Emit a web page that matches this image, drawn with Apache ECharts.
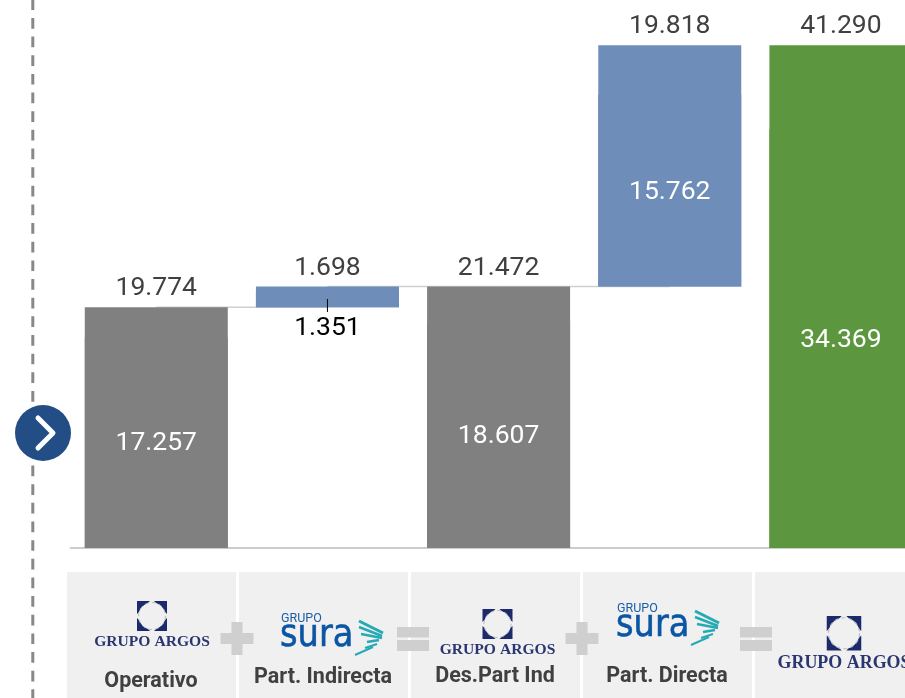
<!DOCTYPE html>
<html>
<head>
<meta charset="utf-8">
<style>
html, body { margin: 0; padding: 0; background: #fff; overflow: hidden; }
#charts { width: 905px; height: 698px; }
</style>
<script src="https://cdn.jsdelivr.net/npm/echarts@6/dist/echarts.min.js"></script>
</head>
<body>
<div id="charts"></div>
<script>
var categories = ['Operativo', 'Part. Indirecta', 'Des.Part Ind', 'Part. Directa', 'Total'];
var baseValues = [0, 19774, 0, 21472, 0];
var lowerValues = [17257, 1351, 18607, 15762, 34369];
var totalValues = [19774, 1698, 21472, 19818, 41290];
var barColors = ['#808080', '#6f8db9', '#808080', '#6f8db9', '#5c973f'];
var connectorValues = [19774, 21472, 21472];
var connectorFrom = [0, 1, 2];

function fmt(v) {
    return (v / 1000).toFixed(3);
}

function barData(list) {
    var out = [];
    for (var i = 0; i < list.length; i++) {
        out.push({ value: list[i], itemStyle: { color: barColors[i] } });
    }
    return out;
}

// logos are drawn in pixels, they are not chart data
function argosLogo(cx, top, s) {
    var size = 30 * s, l = cx - size / 2, t = top, c = 13 * s;
    var navy = '#1c2a6b';
    var corner = function(sx, sy) {
        var ox = sx > 0 ? l : l + size, oy = sy > 0 ? t : t + size;
        return {
            type: 'polygon', z: 12,
            shape: { points: [[ox, oy], [ox + sx * c, oy], [ox, oy + sy * c]] },
            style: { fill: navy }
        };
    };
    return [
        corner(1, 1), corner(-1, 1), corner(1, -1), corner(-1, -1),
        { type: 'circle', z: 12, shape: { cx: cx, cy: t + size / 2, r: 13.5 * s }, style: { fill: '#f0f0f0', stroke: '#b9bcc6', lineWidth: 1 * s, lineDash: [4, 3] } },
        { type: 'text', z: 12, style: { x: cx, y: top + size + 11 * s, text: 'GRUPO ARGOS', fill: '#2b3670', font: 'bold ' + (15.6 * s) + 'px "Liberation Serif"', align: 'center', verticalAlign: 'middle' } }
    ];
}

function suraLogo(x, y) {
    var out = [
        { type: 'text', z: 12, style: { x: x, y: y, text: 'GRUPO', fill: '#1a5ea8', font: '12.5px Roboto', verticalAlign: 'middle' } },
        { type: 'text', z: 12, x: x - 1, y: y + 17, scaleX: 0.91, style: { x: 0, y: 0, text: 'sura', fill: '#0a55a4', stroke: '#0a55a4', lineWidth: 0.6, font: '37px "DejaVu Sans"', verticalAlign: 'middle' } }
    ];
    var wing = [[78, 2, 102, 14, 3], [78, 8, 101, 17, 2.5], [80, 15, 101, 19, 2.5], [86, 23, 98, 21, 2.5], [84, 29, 96, 25, 2], [74, 36, 92, 28, 2]];
    for (var i = 0; i < wing.length; i++) {
        out.push({
            type: 'line', z: 12,
            shape: { x1: x + wing[i][0], y1: y + wing[i][1], x2: x + wing[i][2], y2: y + wing[i][3] },
            style: { stroke: '#25aab5', lineWidth: wing[i][4] }
        });
    }
    return out;
}

function box(l, t, r, b, fill, z) {
    return { type: 'rect', z: z || 11, shape: { x: l, y: t, width: r - l, height: b - t }, style: { fill: fill } };
}

function plus(cx, cy) {
    return [box(cx - 16.5, cy - 5.5, cx + 16.5, cy + 5.5, '#d0cfd0', 13), box(cx - 5.5, cy - 16.5, cx + 5.5, cy + 16.5, '#d0cfd0', 13)];
}

function equals(cx) {
    return [box(cx - 16, 627, cx + 16, 637.5, '#d0cfd0', 13), box(cx - 16, 640, cx + 16, 651, '#d0cfd0', 13)];
}

function caption(text, cx, cy) {
    return { type: 'text', z: 12, style: { x: cx, y: cy, text: text, fill: '#404040', font: 'bold 21.5px Roboto', align: 'center', verticalAlign: 'middle' } };
}

var graphics = [
    { type: 'line', z: 5, shape: { x1: 32.8, y1: -0.7, x2: 32.8, y2: 698 }, style: { stroke: '#888888', lineWidth: 3, lineDash: [10.7, 7.95] } },
    { type: 'circle', z: 6, shape: { cx: 43, cy: 433, r: 28 }, style: { fill: '#234e85' } },
    { type: 'polyline', z: 7, shape: { points: [[38, 418], [53, 433], [38, 448]] }, style: { stroke: '#fff', lineWidth: 5, lineCap: 'round', lineJoin: 'round', fill: null } },
    box(67, 572, 236, 698, '#f0f0f0'),
    box(239, 572, 408, 698, '#f0f0f0'),
    box(411, 572, 580, 698, '#f0f0f0'),
    box(583, 572, 752, 698, '#f0f0f0'),
    box(755, 572, 905, 698, '#f0f0f0'),
    caption(categories[0], 151, 682),
    caption(categories[1], 323, 678),
    caption(categories[2], 495, 677),
    caption(categories[3], 667, 677)
];
graphics = graphics.concat(plus(237, 638.5), plus(582, 638.5), equals(413), equals(756));
graphics = graphics.concat(argosLogo(152, 601, 1), argosLogo(497.5, 609, 1), argosLogo(844, 616, 1.15));
graphics = graphics.concat(suraLogo(281, 619), suraLogo(617, 609));

var myChart = echarts.init(document.getElementById('charts'));
var option = {
    animation: false,
    graphic: { elements: graphics },
    grid: { left: 70.7, top: 0, right: -21.5, bottom: 150, outerBoundsMode: 'none' },
    xAxis: {
        type: 'category',
        data: categories,
        axisTick: { show: false },
        axisLabel: { show: false },
        axisLine: { lineStyle: { color: '#cccccc', width: 2 } }
    },
    yAxis: { type: 'value', min: 0, max: 45000, show: false },
    series: [
        {
            name: 'base total',
            type: 'bar',
            stack: 'total',
            barWidth: 143,
            barGap: '-100%',
            silent: true,
            itemStyle: { color: 'transparent' },
            data: baseValues
        },
        {
            name: 'total',
            type: 'bar',
            stack: 'total',
            barWidth: 143,
            barGap: '-100%',
            data: barData(totalValues),
            label: {
                show: true,
                position: 'top',
                distance: 5,
                color: '#404040',
                fontFamily: 'Roboto',
                fontSize: 26.5,
                formatter: function(p) { return fmt(p.value); }
            }
        },
        {
            name: 'base parte',
            type: 'bar',
            stack: 'parte',
            barWidth: 143,
            barGap: '-100%',
            silent: true,
            itemStyle: { color: 'transparent' },
            data: baseValues
        },
        {
            name: 'parte',
            type: 'bar',
            stack: 'parte',
            barWidth: 143,
            barGap: '-100%',
            data: barData(lowerValues),
            label: {
                show: true,
                position: 'inside',
                color: '#ffffff',
                fontFamily: 'Roboto',
                fontSize: 26.5,
                formatter: function(p) { return fmt(p.value); }
            },
            labelLayout: function(p) {
                if (p.dataIndex == 1) {
                    return { dy: 29 };
                }
                if (p.dataIndex == 0) {
                    return { dy: 0 };
                }
                return { dy: 2 };
            }
        },
        {
            name: 'conectores',
            type: 'custom',
            silent: true,
            data: connectorValues.map(function(v, i) { return [connectorFrom[i], v]; }),
            encode: { x: 0, y: 1 },
            z: 1,
            renderItem: function(params, api) {
                var a = api.coord([api.value(0), api.value(1)]);
                var b = api.coord([api.value(0) + 1, api.value(1)]);
                return {
                    type: 'line',
                    shape: { x1: a[0], y1: a[1], x2: b[0], y2: b[1] },
                    style: { stroke: '#d0d0d0', lineWidth: 1.5 }
                };
            }
        },
        {
            // linea guia del 1.351
            name: 'guia',
            type: 'custom',
            silent: true,
            data: [[1, baseValues[1] + lowerValues[1] / 2]],
            encode: { x: 0, y: 1 },
            z: 5,
            renderItem: function(params, api) {
                var p = api.coord([api.value(0), api.value(1)]);
                return {
                    type: 'line',
                    shape: { x1: p[0], y1: p[1], x2: p[0], y2: p[1] + 13 },
                    style: { stroke: '#000000', lineWidth: 1 }
                };
            }
        }
    ]
};
option.series[3].data[1].label = { color: '#000000' };
myChart.setOption(option);
</script>
</body>
</html>
